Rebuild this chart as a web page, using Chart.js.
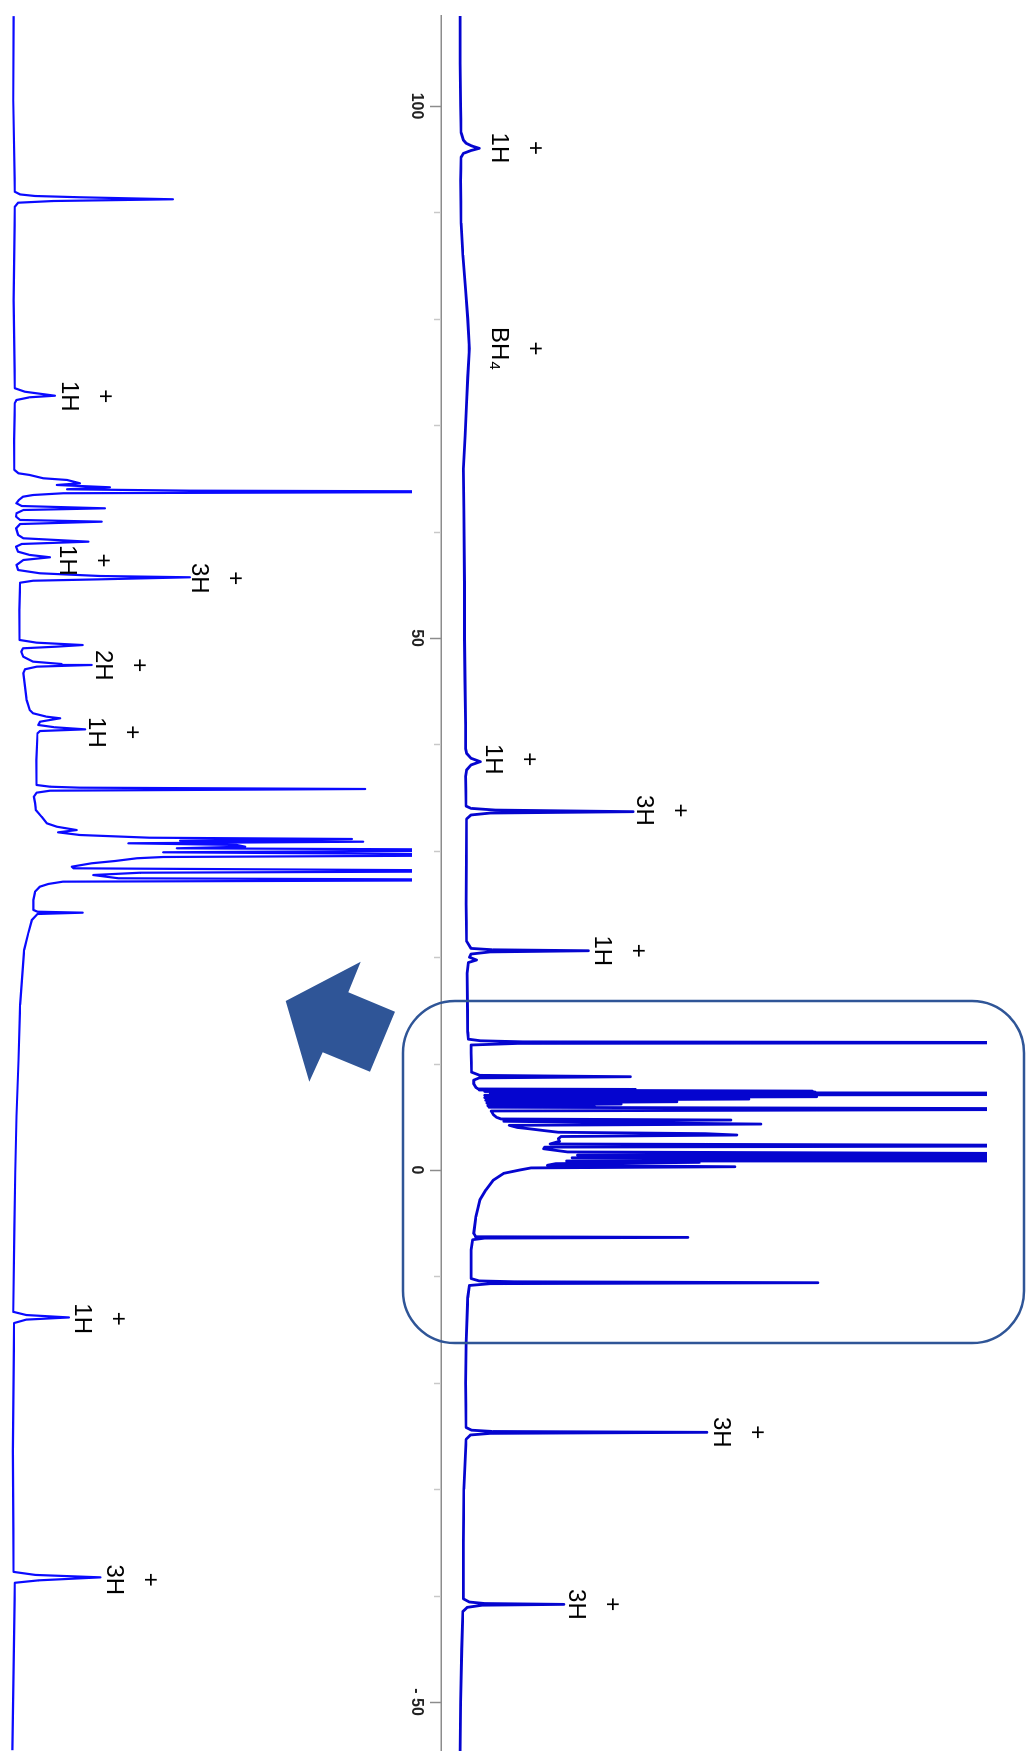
<!DOCTYPE html>
<html>
<head>
<meta charset="utf-8">
<title>NMR spectrum with expansion</title>
<script src="https://cdn.jsdelivr.net/npm/chart.js@4.4.1/dist/chart.umd.min.js"></script>
<style>
  html, body { margin: 0; padding: 0; background: #fff; }
  body { width: 1026px; height: 1751px; overflow: hidden; position: relative; }
  /* the spectrum is laid out landscape, then turned a quarter clockwise */
  #stage {
    position: absolute; left: 0; top: 0;
    width: 1751px; height: 1026px;
    transform-origin: 0 0;
    transform: translate(1026px, 0) rotate(90deg);
  }
  #mainCanvas { position: absolute; left: 0; top: 0; }
  #insetCanvas { position: absolute; left: 0; top: 614px; }
  #overlay { position: absolute; left: 0; top: 0; }
</style>
</head>
<body>
<div id="stage">
  <canvas id="mainCanvas" width="1751" height="1026"></canvas>
  <canvas id="insetCanvas" width="1751" height="412"></canvas>
</div>
<svg id="overlay" width="1026" height="1751">
  <rect x="403" y="1001" width="621" height="342" rx="52" ry="52" fill="none" stroke="#2F5597" stroke-width="2.5"/>
  <polygon points="285.7,1001 360.7,961.7 348.3,992.3 395,1011.7 370,1071.7 322.7,1052.3 309.3,1081.7" fill="#2F5597"/>
</svg>
<script>
  // ---- Full spectrum (ppm / relative intensity, 100 = top of frame) ----
  const mainPpm = [
    108.46, 104, 100, 97.5, 96.8, 96.5, 96.25, 96.02, 95.8, 95.55, 95.2, 93, 89, 86, 82.7, 80,
    77.2, 74.5, 72.2, 69, 65.9, 62, 55, 50, 46, 41.8, 39.6, 39.16, 38.7, 38.38, 38.07, 37.6,
    37.0, 34.2, 33.99, 33.83, 33.68, 33.55, 33.37, 33.0, 25, 21.5, 20.83, 20.7, 20.61, 20.5,
    20.3, 20.0, 19.74, 19.5, 18.5, 13, 12.3, 12.15, 12.05, 11.97, 11.9, 11.75, 11.0, 9.2, 8.9,
    8.77, 8.66, 8.45, 8.10, 7.75, 7.62, 7.58, 7.52, 7.42, 7.38, 7.33, 7.28, 7.22, 7.17, 7.11,
    7.03, 6.89, 6.80, 6.67, 6.55, 6.42, 6.30, 6.20, 6.10, 6.02, 5.90, 5.73, 5.55, 5.2, 4.95,
    4.80, 4.70, 4.58, 4.45, 4.32, 4.20, 4.00, 3.90, 3.70, 3.55, 3.42, 3.29, 3.15, 2.95, 2.70,
    2.45, 2.29, 2.15, 2.00, 1.85, 1.70, 1.50, 1.40, 1.28, 1.15, 0.94, 0.85, 0.72, 0.60, 0.45,
    0.31, 0.20, 0.0, -0.31, -0.94, -1.88, -2.82, -4.39, -5.95, -6.2, -6.27, -6.33, -6.40, -6.55,
    -7.5, -10.2, -10.42, -10.50, -10.59, -10.68, -10.85, -12, -16.3, -20, -24.2, -24.45, -24.57,
    -24.65, -24.75, -24.9, -25.3, -30, -35, -40.3, -40.6, -40.74, -40.82, -40.9, -41.1, -41.5,
    -45, -50, -54.6
  ];
  const mainIntensity = [
    3.5, 3.5, 3.6, 3.7, 4.1, 4.6, 5.6, 7.0, 5.4, 4.1, 3.7, 3.6, 3.7, 4.0, 4.5, 4.9,
    5.2, 4.9, 4.7, 4.4, 4.1, 4.2, 4.3, 4.3, 4.4, 4.5, 4.5, 4.7, 5.5, 7.2, 5.5, 4.7,
    4.5, 4.6, 5.5, 10, 35.2, 9, 5.5, 4.7, 4.6, 4.7, 5.5, 9.5, 27.0, 9,
    5.5, 5.2, 6.5, 5.0, 4.8, 4.9, 5.0, 7.2, 15, 140, 14, 5.5, 5.5, 5.6, 7.1,
    34.7, 7, 6.0, 6.0, 6.4, 6.8, 35.6, 7.0, 68, 8, 68.5, 9, 140, 9, 140,
    8, 68.8, 8, 56.4, 8.2, 43.2, 8.4, 33, 8.6, 28, 8.8, 140, 9.2, 9.6, 10.2,
    11, 53.1, 11.5, 34.5, 58.6, 12.5, 14, 15.8, 19, 21.5, 48.4, 54.2, 22, 21.5, 21.7,
    20, 140, 19, 18.8, 21, 23.2, 140, 25, 140, 24, 140, 23, 47.3, 21, 19.5,
    53.8, 16.5, 14.4, 11.5, 9.6, 8.2, 7.1, 6.4, 6.0, 6.3, 9, 45.2, 8, 5.8,
    5.5, 5.5, 7, 13.5, 69.0, 9, 5.2, 4.9, 4.6, 4.5, 4.6, 5.6, 9.5,
    48.7, 9, 5.4, 4.6, 4.2, 4.1, 4.1, 5.2, 8, 22.5, 7.5, 4.8, 4.0,
    3.8, 3.6, 3.5
  ];

  // ---- Expansion of the boxed region (same ppm units, own intensity scale) ----
  const insetPpm = [
    15.34, 13.95, 12.435, 12.39, 12.364, 12.343, 12.31, 12.281, 12.253, 12.187, 10.64,
    9.183, 9.126, 9.10, 9.06, 9.034, 8.989, 8.94, 8.327, 7.831, 7.776, 7.748, 7.694, 7.666,
    7.611, 7.583, 7.545, 7.512, 7.489, 7.472, 7.446, 7.417, 7.389, 7.335, 7.28, 7.235, 7.197,
    7.169, 7.115, 7.058, 7.004, 6.976, 6.937, 6.866, 6.756, 6.701, 6.645, 6.607, 6.562, 6.479,
    6.425, 6.387, 6.342, 6.259, 6.176, 6.122, 6.077, 6.056, 6.022, 5.999, 5.966, 5.515, 5.018,
    4.974, 4.935, 4.908, 4.881, 4.825, 4.742, 4.660, 4.621, 4.605, 4.577, 4.534, 4.467, 4.026,
    3.860, 3.806, 3.749, 3.723, 3.666, 3.612, 3.574, 3.540, 3.512, 3.474, 3.033, 2.619, 2.591,
    2.575, 2.553, 2.525, 2.492, 2.426, 2.317, 2.205, 2.095, 1.985, 1.929, 1.874, 1.836, 1.792,
    1.747, 1.726, 1.698, 1.681, 1.655, 1.627, 1.599, 1.572, 1.544, 1.506, 1.461, 1.428, 1.407,
    1.362, 1.324, 1.268, 1.241, 1.196, 1.168, 1.130, 1.076, 1.048, 1.020, 0.982, 0.937, 0.854,
    0.717, 0.551, 0.523, 0.507, 0.485, 0.386, 0.165, -0.111, -1.017, -1.94, -2.857, -3.79,
    -4.71, -6.097, -6.15, -6.19, -6.226, -6.283, -8.40, -10.40, -10.45, -10.49, -10.54, -10.58,
    -13.35
  ];
  const insetIntensity = [
    1.4, 1.3, 1.7, 3.0, 6.7, 17.8, 40.8, 11.1, 2.5, 1.7, 1.4,
    1.7, 4.2, 7.1, 11.6, 5.4, 2.1, 1.7, 1.5, 1.6, 2.6, 5.4, 8.7, 14.6,
    17.8, 12.1, 25.2, 14.6, 45, 140, 13.6, 6.2, 3.7, 2.7, 2.1, 3.4, 24.0,
    3.8, 2.1, 2.0, 3.0, 23.2, 3.0, 2.0, 2.5, 3.8, 19.9, 3.4, 2.0, 2.5,
    5.4, 10.4, 3.8, 2.1, 2.5, 7.9, 22.8, 45, 22.8, 6.2, 3.0, 2.8, 2.9,
    7.1, 18.5, 12, 3.7, 3.3, 3.8, 6.2, 13.3, 20.7, 7.1, 4.2, 3.8, 4.6,
    5.4, 6.2, 9.6, 12.9, 7.9, 7.5, 11.6, 19.1, 7.9, 7.3, 7.0, 7.1, 10.4,
    17.8, 88.4, 10.4, 7.1, 6.4, 6.7, 6.9, 8.3, 9.6, 12.1, 17.0, 12.4, 17.8,
    35.1, 85.1, 42.6, 87.9, 29.8, 56.6, 58.7, 41.8, 140, 38.4, 140, 38.4, 31.9,
    26.5, 20.7, 15.8, 16.2, 140, 32.7, 21.1, 27.3, 140, 13.6, 10.0, 7.9, 6.7,
    6.3, 6.3, 7.3, 18.5, 7.3, 5.9, 5.0, 4.0, 3.0, 2.6, 2.1, 1.8,
    1.6, 1.3, 4.5, 15.1, 4.5, 1.5, 1.2, 1.4, 6.8, 22.9, 7.5, 1.7,
    1.1
  ];

  // ---- Axis ----
  const axisTicks = [100, 90, 80, 70, 60, 50, 40, 30, 20, 10, 0, -10, -20, -30, -40, -50];
  const majorTicks = [100, 50, 0, -50];
  const majorTickLabels = ["100", "50", "0", "- 50"];

  // ---- Peak annotations (label centre in data units) ----
  const mainPeakText  = ["1H", "BH\u2084", "1H", "3H", "1H", "3H", "3H"];
  const mainPeakPpm   = [96.06, 77.2, 38.6, 33.8, 20.6, -24.65, -40.82];
  const mainPeakLevel = [10.6, 10.6, 9.4, 37.2, 29.4, 51.3, 24.7];

  const insetPeakText  = ["1H", "1H", "3H", "2H", "1H", "1H", "3H"];
  const insetPeakPpm   = [9.05, 6.335, 6.04, 4.60, 3.49, -6.21, -10.53];
  const insetPeakLevel = [14.9, 14.6, 47.2, 23.4, 21.8, 18.2, 26.2];

  // ---- helpers ----
  function toPoints(xs, ys) {
    return xs.map(function (x, i) { return { x: x, y: ys[i] }; });
  }

  var LABEL_FONT = '24px "Liberation Sans", Arial, sans-serif';

  var peakLabels = {
    id: "peakLabels",
    afterDatasetsDraw: function (chart, args, opts) {
      var ctx = chart.ctx;
      var xs = chart.scales.x, ys = chart.scales.y;
      ctx.save();
      ctx.fillStyle = "#000";
      ctx.font = LABEL_FONT;
      ctx.textAlign = "center";
      ctx.textBaseline = "middle";
      opts.text.forEach(function (t, i) {
        var px = xs.getPixelForValue(opts.ppm[i]);
        var py = ys.getPixelForValue(opts.level[i]);
        ctx.fillText(t, px, py);
        ctx.fillText("+", px, py - 36);
      });
      ctx.restore();
    }
  };

  // tick marks: long for labelled values, short and pale for the rest
  var ppmTicks = {
    id: "ppmTicks",
    afterDraw: function (chart) {
      var xs = chart.scales.x;
      var y0 = chart.chartArea.bottom;
      var ctx = chart.ctx;
      ctx.save();
      ctx.lineWidth = 1.5;
      axisTicks.forEach(function (v) {
        var major = majorTicks.indexOf(v) >= 0;
        var px = Math.round(xs.getPixelForValue(v)) + 0.5;
        ctx.strokeStyle = major ? "#8c8c8c" : "#c8c8c8";
        ctx.beginPath();
        ctx.moveTo(px, y0);
        ctx.lineTo(px, y0 + (major ? 11 : 7));
        ctx.stroke();
      });
      ctx.restore();
    }
  };

  // ---- Main chart ----
  new Chart(document.getElementById("mainCanvas"), {
    type: "line",
    data: {
      datasets: [{
        data: toPoints(mainPpm, mainIntensity),
        borderColor: "#0505cf",
        borderWidth: 2.8,
        borderJoinStyle: "round",
        pointRadius: 0,
        tension: 0,
        fill: false
      }]
    },
    options: {
      responsive: false,
      animation: false,
      events: [],
      layout: { padding: { top: 39, left: 16, right: 0, bottom: 0 } },
      plugins: {
        legend: { display: false },
        tooltip: { enabled: false },
        peakLabels: { text: mainPeakText, ppm: mainPeakPpm, level: mainPeakLevel }
      },
      scales: {
        x: {
          type: "linear",
          reverse: true,
          min: -54.6,
          max: 108.46,
          afterBuildTicks: function (scale) {
            scale.ticks = axisTicks.map(function (v) { return { value: v }; });
          },
          afterFit: function (scale) { scale.height = 441; },
          grid: { display: false, drawTicks: false },
          border: { display: true, color: "#8c8c8c", width: 1.5 },
          ticks: {
            autoSkip: false,
            maxRotation: 0,
            padding: 15,
            color: "#222",
            font: { family: "Liberation Sans", size: 16, weight: "bold" },
            callback: function (value) {
              var i = majorTicks.indexOf(value);
              return i >= 0 ? majorTickLabels[i] : "";
            }
          }
        },
        y: { type: "linear", min: 0, max: 100, display: false }
      }
    },
    plugins: [peakLabels, ppmTicks]
  });

  // ---- Expansion chart ----
  new Chart(document.getElementById("insetCanvas"), {
    type: "line",
    data: {
      datasets: [{
        data: toPoints(insetPpm, insetIntensity),
        borderColor: "#0a0aff",
        borderWidth: 2.2,
        borderJoinStyle: "round",
        pointRadius: 0,
        tension: 0,
        fill: false
      }]
    },
    options: {
      responsive: false,
      animation: false,
      events: [],
      layout: { padding: { top: 0, left: 0, right: 0, bottom: 8 } },
      plugins: {
        legend: { display: false },
        tooltip: { enabled: false },
        peakLabels: { text: insetPeakText, ppm: insetPeakPpm, level: insetPeakLevel }
      },
      scales: {
        x: { type: "linear", reverse: true, min: -13.363, max: 15.607, display: false },
        y: { type: "linear", min: 0, max: 100, display: false }
      }
    },
    plugins: [peakLabels]
  });
</script>
</body>
</html>
